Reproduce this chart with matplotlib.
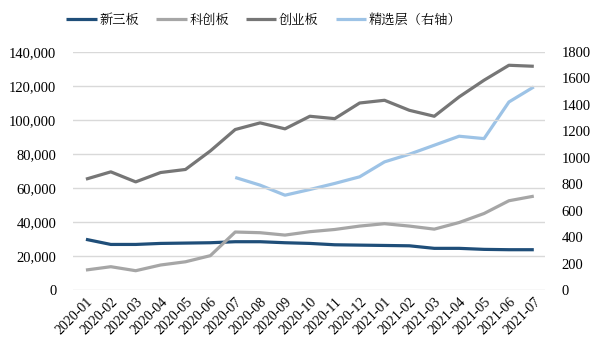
import matplotlib
matplotlib.use("Agg")
import matplotlib.pyplot as plt
from matplotlib.ticker import FuncFormatter

months = ["2020-01", "2020-02", "2020-03", "2020-04", "2020-05", "2020-06", "2020-07",
          "2020-08", "2020-09", "2020-10", "2020-11", "2020-12", "2021-01", "2021-02",
          "2021-03", "2021-04", "2021-05", "2021-06", "2021-07"]

xinsanban = [29800, 26800, 26800, 27400, 27600, 27800, 28400, 28400, 27800, 27400,
             26600, 26400, 26200, 26000, 24500, 24500, 23900, 23700, 23700]
kechuang = [11750, 13700, 11350, 14700, 16600, 20200, 34100, 33700, 32300, 34300,
            35600, 37600, 39000, 37600, 35800, 39700, 45000, 52500, 55200]
chuangye = [65200, 69500, 63600, 69100, 70900, 81800, 94400, 98300, 94800, 102200,
            100800, 110000, 111600, 105700, 102200, 113600, 123400, 132200, 131600]
# 精选层 starts 2020-07 (right axis)
jingxuan_months = months[6:]
jingxuan = [851, 793, 717, 760, 806, 856, 969, 1027, 1095, 1163, 1145, 1422, 1536]

names = ["新三板", "科创板", "创业板", "精选层（右轴）"]
colors = ["#1F4E79", "#A6A6A6", "#767676", "#9DC3E6"]

SERIF = ['Liberation Serif', 'Noto Serif CJK SC', 'DejaVu Serif']
plt.rcParams['font.family'] = SERIF

fig = plt.figure(figsize=(6.0, 3.52), dpi=100)
ax = fig.add_axes([73/600, 62/352, (545-73)/600, (290-52)/352])
ax2 = ax.twinx()

x = list(range(len(months)))
xj = [months.index(m) for m in jingxuan_months]

lw = 2.3
l1, = ax.plot(x, xinsanban, color=colors[0], lw=lw, solid_capstyle='butt', zorder=3)
l2, = ax.plot(x, kechuang, color=colors[1], lw=lw, solid_capstyle='butt', zorder=3)
l3, = ax.plot(x, chuangye, color=colors[2], lw=lw, solid_capstyle='butt', zorder=3)
l4, = ax2.plot(xj, jingxuan, color=colors[3], lw=lw, solid_capstyle='butt', zorder=3)

ax.set_xlim(-0.52, 18.45)
ax.set_ylim(0, 140000)
ax2.set_ylim(0, 1800)
ax.set_yticks(range(0, 140001, 20000))
ax2.set_yticks(range(0, 1801, 200))
ax.yaxis.set_major_formatter(FuncFormatter(lambda v, p: f"{int(v):,}"))
ax.set_xticks(x)
ax.set_xticklabels(months, rotation=45, ha='right', va='top', rotation_mode='anchor')

for a in (ax, ax2):
    for s in a.spines.values():
        s.set_visible(False)
    a.tick_params(length=0)
ax.tick_params(axis='y', labelsize=10.5, pad=12, colors='#000000')
ax2.tick_params(axis='y', labelsize=10.5, pad=12, colors='#000000')
ax.tick_params(axis='x', labelsize=10, pad=4)
for lbl in ax.get_xticklabels() + ax.get_yticklabels() + ax2.get_yticklabels():
    lbl.set_fontfamily(SERIF)

ax.grid(axis='y', color='#D9D9D9', lw=1.0, zorder=0)
ax.set_axisbelow(True)
ax.set_zorder(ax2.get_zorder() + 1)
ax.patch.set_visible(False)

fig.legend([l1, l2, l3, l4], names, loc='center', bbox_to_anchor=(264/600, 1 - 20/352),
           ncol=4, frameon=False, handlelength=2.3, columnspacing=1.3, handletextpad=0.2,
           prop={'family': ['Noto Serif CJK SC', 'Noto Sans CJK SC', 'DejaVu Sans'], 'size': 9.5})

fig.savefig("out.png", dpi=100)
